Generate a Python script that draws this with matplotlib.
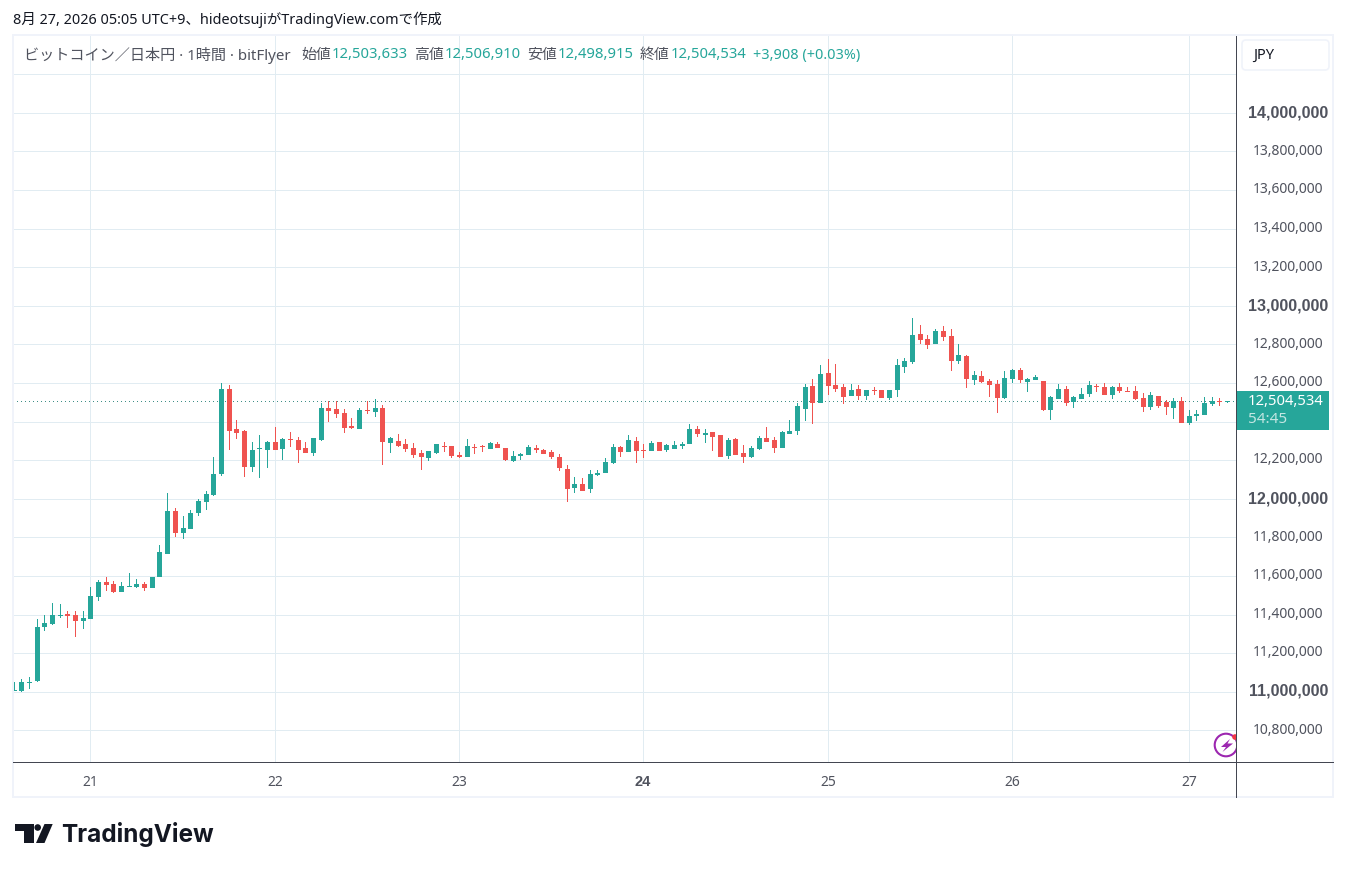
import matplotlib
matplotlib.use('Agg')
import matplotlib.pyplot as plt
from matplotlib.patches import Circle, FancyBboxPatch, Polygon, Rectangle
from matplotlib.transforms import Affine2D
import numpy as np

plt.rcParams['font.family'] = ['Noto Sans', 'Noto Sans CJK JP', 'DejaVu Sans']

# Hourly candles in thousand yen
opens = [11007, 11003, 11048, 11059, 11338, 11354, 11395, 11406, 11400, 11369,
         11380, 11494, 11571, 11561, 11520, 11545, 11545, 11561, 11540, 11597,
         11716, 11939, 11825, 11846, 11929, 11986, 12022, 12130, 12571, 12363,
         12353, 12167, 12260, 12255, 12296, 12260, 12312, 12307, 12265, 12239,
         12306, 12472, 12467, 12446, 12379, 12363, 12462, 12451, 12472, 12291,
         12301, 12286, 12265, 12239, 12213, 12239, 12275, 12275, 12229, 12218,
         12270, 12273, 12260, 12286, 12265, 12198, 12223, 12229, 12265, 12255,
         12244, 12218, 12156, 12058, 12078, 12053, 12125, 12133, 12185, 12268,
         12242, 12299, 12252, 12247, 12294, 12252, 12258, 12273, 12283, 12361,
         12330, 12346, 12330, 12221, 12309, 12237, 12216, 12258, 12315, 12304,
         12263, 12335, 12351, 12465, 12584, 12496, 12651, 12589, 12579, 12532,
         12573, 12532, 12563, 12563, 12522, 12564, 12683, 12709, 12854, 12828,
         12802, 12869, 12843, 12714, 12740, 12616, 12636, 12610, 12595, 12522,
         12621, 12667, 12605, 12616, 12610, 12460, 12517, 12569, 12502, 12517,
         12543, 12584, 12579, 12538, 12579, 12559, 12559, 12522, 12476, 12533,
         12502, 12471, 12507, 12393, 12429, 12434, 12491, 12507, 12503.633]
highs = [11050, 11069, 11079, 11380, 11400, 11463, 11457, 11421, 11421, 11421,
         11545, 11582, 11597, 11576, 11571, 11618, 11587, 11571, 11597, 11763,
         12032, 11954, 11913, 11944, 12001, 12042, 12219, 12602, 12591, 12410,
         12358, 12296, 12332, 12301, 12374, 12317, 12348, 12322, 12296, 12317,
         12498, 12508, 12508, 12467, 12420, 12472, 12508, 12519, 12488, 12322,
         12337, 12312, 12291, 12255, 12249, 12286, 12296, 12275, 12244, 12312,
         12286, 12280, 12296, 12296, 12265, 12249, 12239, 12280, 12280, 12260,
         12255, 12234, 12177, 12115, 12110, 12151, 12151, 12211, 12283, 12273,
         12330, 12320, 12283, 12299, 12294, 12283, 12299, 12294, 12387, 12377,
         12361, 12346, 12330, 12315, 12315, 12278, 12273, 12325, 12372, 12320,
         12351, 12408, 12496, 12599, 12625, 12693, 12724, 12698, 12599, 12594,
         12589, 12568, 12579, 12563, 12568, 12724, 12729, 12937, 12900, 12849,
         12880, 12895, 12880, 12802, 12745, 12662, 12662, 12621, 12616, 12662,
         12672, 12678, 12626, 12641, 12610, 12533, 12595, 12584, 12533, 12574,
         12610, 12595, 12600, 12584, 12600, 12579, 12584, 12548, 12553, 12533,
         12512, 12522, 12528, 12460, 12460, 12528, 12528, 12522, 12506.91]
lows = [11003, 10998, 11017, 11053, 11317, 11349, 11385, 11333, 11286, 11328,
        11380, 11473, 11525, 11514, 11520, 11545, 11540, 11525, 11540, 11597,
        11716, 11804, 11794, 11846, 11913, 11944, 12017, 12120, 12255, 12312,
        12115, 12141, 12110, 12162, 12255, 12203, 12270, 12187, 12239, 12223,
        12301, 12400, 12420, 12343, 12363, 12363, 12441, 12425, 12177, 12239,
        12270, 12244, 12213, 12151, 12198, 12234, 12244, 12213, 12213, 12218,
        12234, 12244, 12260, 12265, 12198, 12192, 12203, 12229, 12239, 12234,
        12208, 12146, 11985, 12032, 12042, 12032, 12120, 12133, 12180, 12216,
        12242, 12185, 12211, 12247, 12247, 12242, 12258, 12258, 12283, 12320,
        12289, 12247, 12216, 12206, 12227, 12185, 12211, 12252, 12294, 12237,
        12263, 12335, 12330, 12403, 12387, 12496, 12542, 12553, 12491, 12532,
        12511, 12511, 12542, 12522, 12511, 12528, 12652, 12698, 12802, 12776,
        12802, 12817, 12662, 12698, 12574, 12590, 12600, 12528, 12445, 12517,
        12600, 12600, 12553, 12616, 12455, 12408, 12517, 12481, 12471, 12517,
        12528, 12553, 12538, 12517, 12548, 12553, 12512, 12450, 12460, 12471,
        12434, 12414, 12393, 12383, 12403, 12434, 12481, 12481, 12498.915]
closes = [11012, 11053, 11053, 11338, 11359, 11400, 11400, 11395, 11369, 11385,
          11499, 11571, 11556, 11520, 11551, 11551, 11561, 11540, 11597, 11727,
          11939, 11825, 11851, 11929, 11991, 12027, 12130, 12571, 12353, 12343,
          12167, 12255, 12265, 12296, 12255, 12312, 12307, 12255, 12239, 12317,
          12472, 12456, 12441, 12368, 12368, 12462, 12456, 12472, 12296, 12317,
          12275, 12260, 12229, 12218, 12249, 12286, 12270, 12223, 12218, 12275,
          12265, 12268, 12291, 12265, 12203, 12223, 12234, 12270, 12255, 12234,
          12218, 12161, 12053, 12078, 12042, 12130, 12135, 12190, 12268, 12242,
          12304, 12247, 12247, 12289, 12247, 12278, 12278, 12283, 12361, 12335,
          12340, 12320, 12216, 12304, 12227, 12216, 12263, 12315, 12294, 12263,
          12346, 12351, 12480, 12579, 12496, 12646, 12584, 12573, 12527, 12568,
          12532, 12568, 12558, 12522, 12568, 12693, 12714, 12849, 12823, 12797,
          12869, 12838, 12714, 12745, 12621, 12641, 12605, 12590, 12522, 12626,
          12667, 12616, 12621, 12631, 12460, 12528, 12569, 12496, 12528, 12543,
          12590, 12579, 12538, 12579, 12559, 12553, 12517, 12476, 12538, 12481,
          12476, 12507, 12393, 12429, 12439, 12496, 12507, 12502, 12504.534]

day_labels = ['21', '22', '23', '24', '25', '26', '27']
day_candles = [10, 34, 58, 82, 106, 130, 153]
price_ticks = [10800000, 11000000, 11200000, 11400000, 11600000, 11800000, 12000000,
               12200000, 12400000, 12600000, 12800000, 13000000, 13200000, 13400000,
               13600000, 13800000, 14000000, 14200000]
hidden_labels = [12400000, 14200000]  # under the last price tag / the currency button

GREEN = '#26a69a'
RED = '#ef5350'
GRID = '#e1ecf2'
FRAME = '#f0f3fa'
AXIS = '#434651'
GRAY = '#50535e'

W, H = 1346, 872
fig = plt.figure(figsize=(W / 100, H / 100), dpi=100, facecolor='white')

# chart pane
ax = fig.add_axes([13 / W, 1 - 762 / H, (1236 - 13) / W, (762 - 36) / H])
ax.set_xlim(-0.137, 159.108)
ax.set_ylim(10635600, 14398200)
o = np.array(opens) * 1000
h = np.array(highs) * 1000
l = np.array(lows) * 1000
c = np.array(closes) * 1000
x = np.arange(len(o))
colors = np.where(c >= o, GREEN, RED)

# put each candle on a whole pixel so wick and body line up
zeros = np.zeros(len(x))
px = np.floor(ax.transData.transform(np.column_stack([x, zeros]))[:, 0])
to_data = ax.transData.inverted()
xw = to_data.transform(np.column_stack([px, zeros]))[:, 0]
xb = to_data.transform(np.column_stack([px - 2, zeros]))[:, 0]
body_w = 5 * (xw[1] - xw[0]) / (px[1] - px[0])
nudge = ax.transData + Affine2D().translate(0, -0.36)

# snapped wicks reach one pixel too low, so the lower end is lifted by about a pixel
one_px = 5180
ax.vlines(xw, l + one_px, h, colors=colors, linewidth=0.72, antialiased=False, zorder=3, transform=nudge)
bottom = np.minimum(o, c)
height = np.maximum(np.abs(c - o), 5300)
ax.bar(xb, height, bottom=bottom, width=body_w, align='edge', color=colors,
       linewidth=0, antialiased=False, zorder=3, transform=nudge)
ax.axhline(c[-1], color='#3f8f87', linewidth=0.72, linestyle=(0, (1, 4)), antialiased=False, zorder=2)

ax.set_xlim(-0.137, 159.108)
ax.set_ylim(10635600, 14398200)
ax.set_xticks(xw[day_candles])
ax.set_xticklabels(day_labels)
ax.set_yticks(price_ticks)
ax.set_yticklabels([])
ax.grid(True, color=GRID, linewidth=0.72)
ax.set_axisbelow(True)
ax.tick_params(length=0, pad=9, labelsize=10, labelcolor=GRAY)
bold_day = ax.get_xticklabels()[3]
bold_day.set_family('Liberation Sans')
bold_day.set_fontweight('bold')
bold_day.set_fontsize(10.5)
for side in ['top', 'left', 'right', 'bottom']:
    ax.spines[side].set_visible(False)

# everything around the pane is placed in image pixels
over = fig.add_axes([0, 0, 1, 1], facecolor='none')
over.set_xlim(0, W)
over.set_ylim(H, 0)
over.axis('off')

# outer frame and axis lines
over.add_patch(Rectangle((13, 35), 1320, 762, fill=False, edgecolor=FRAME, linewidth=1.44))
over.plot([13, 1333], [762, 762], color=AXIS, linewidth=0.72, zorder=6)
over.plot([1236, 1236], [36, 797], color=AXIS, linewidth=0.72, zorder=6)

# price scale labels
for p in price_ticks:
    if p in hidden_labels:
        continue
    ypx = 74.75 + (14200000 - p) / 200000 * 38.59 - 0.7
    major = p % 1000000 == 0
    if major:
        over.text(1288.5, ypx, f'{p:,}', ha='center', va='center', color=GRAY,
                  fontsize=11.5, fontweight='bold', family='Liberation Sans')
    else:
        over.text(1288, ypx, f'{p:,}', ha='center', va='center', color=GRAY, fontsize=10)

# last price tag
over.add_patch(Rectangle((1237, 391), 92, 39, facecolor=GREEN, edgecolor='none', zorder=4))
over.text(1286, 401, f'{closes[-1] * 1000:,.0f}', ha='center', va='center', color='white',
          fontsize=10.7, zorder=5)
over.text(1248, 419.5, '54:45', ha='left', va='center', color='#c4e6e2', fontsize=11, zorder=5)

# currency button
over.add_patch(FancyBboxPatch((1242, 40), 87, 30, boxstyle='round,pad=0,rounding_size=4',
                              facecolor='white', edgecolor=FRAME, linewidth=1.2, zorder=4))
over.text(1253, 55.5, 'JPY', ha='left', va='center', color='#131722', fontsize=10.5, zorder=5)

# header and legend line
over.text(13, 20, '8月 27, 2026 05:05 UTC+9、hideotsujiがTradingView.comで作成',
          ha='left', va='center', color='#131722', fontsize=10.4)
over.text(24, 55, 'ビットコイン／日本円 · 1時間 · bitFlyer', ha='left', va='center',
          color=GRAY, fontsize=10.9)
legend_items = [(301, '始値', opens[-1]), (414, '高値', highs[-1]),
                (527, '安値', lows[-1]), (640, '終値', closes[-1])]
for xpos, name, value in legend_items:
    over.text(xpos, 55, name, ha='left', va='center', color=GRAY, fontsize=10.7)
    over.text(xpos + 31, 55, f'{value * 1000:,.0f}', ha='left', va='center', color=GREEN, fontsize=10.7)
over.text(753, 55, '+3,908 (+0.03%)', ha='left', va='center', color=GREEN, fontsize=10.4)

# purple lightning badge
PURPLE = '#9c27b0'
over.add_patch(Circle((1226, 745), 11.3, fill=False, edgecolor=PURPLE, linewidth=1.5, zorder=4))
over.add_patch(Polygon([(1230, 739), (1221, 747), (1226, 747), (1222.5, 752), (1233, 743.5), (1227.5, 743.5)],
                       facecolor=PURPLE, edgecolor='none', zorder=4))
over.add_patch(Circle((1235, 737), 2.8, facecolor='#f23645', edgecolor='none', zorder=4))
over.add_patch(Rectangle((1237, 725), 10, 36, facecolor='white', edgecolor='none', zorder=4.5))

# TradingView logo
LOGO = '#131722'
over.add_patch(Polygon([(15, 824), (33.5, 824), (33.5, 843), (24, 843), (24, 831), (15, 831)],
                       facecolor=LOGO, edgecolor='none'))
over.add_patch(Circle((37.7, 827.5), 3.3, facecolor=LOGO, edgecolor='none'))
over.add_patch(Polygon([(44.5, 824), (52.7, 824), (44.5, 843), (36, 843)], facecolor=LOGO, edgecolor='none'))
over.text(61, 834.5, 'TradingView', ha='left', va='center', color=LOGO, fontsize=17.5,
          fontweight='bold', family='Inter')

fig.savefig('out.png', dpi=100)
